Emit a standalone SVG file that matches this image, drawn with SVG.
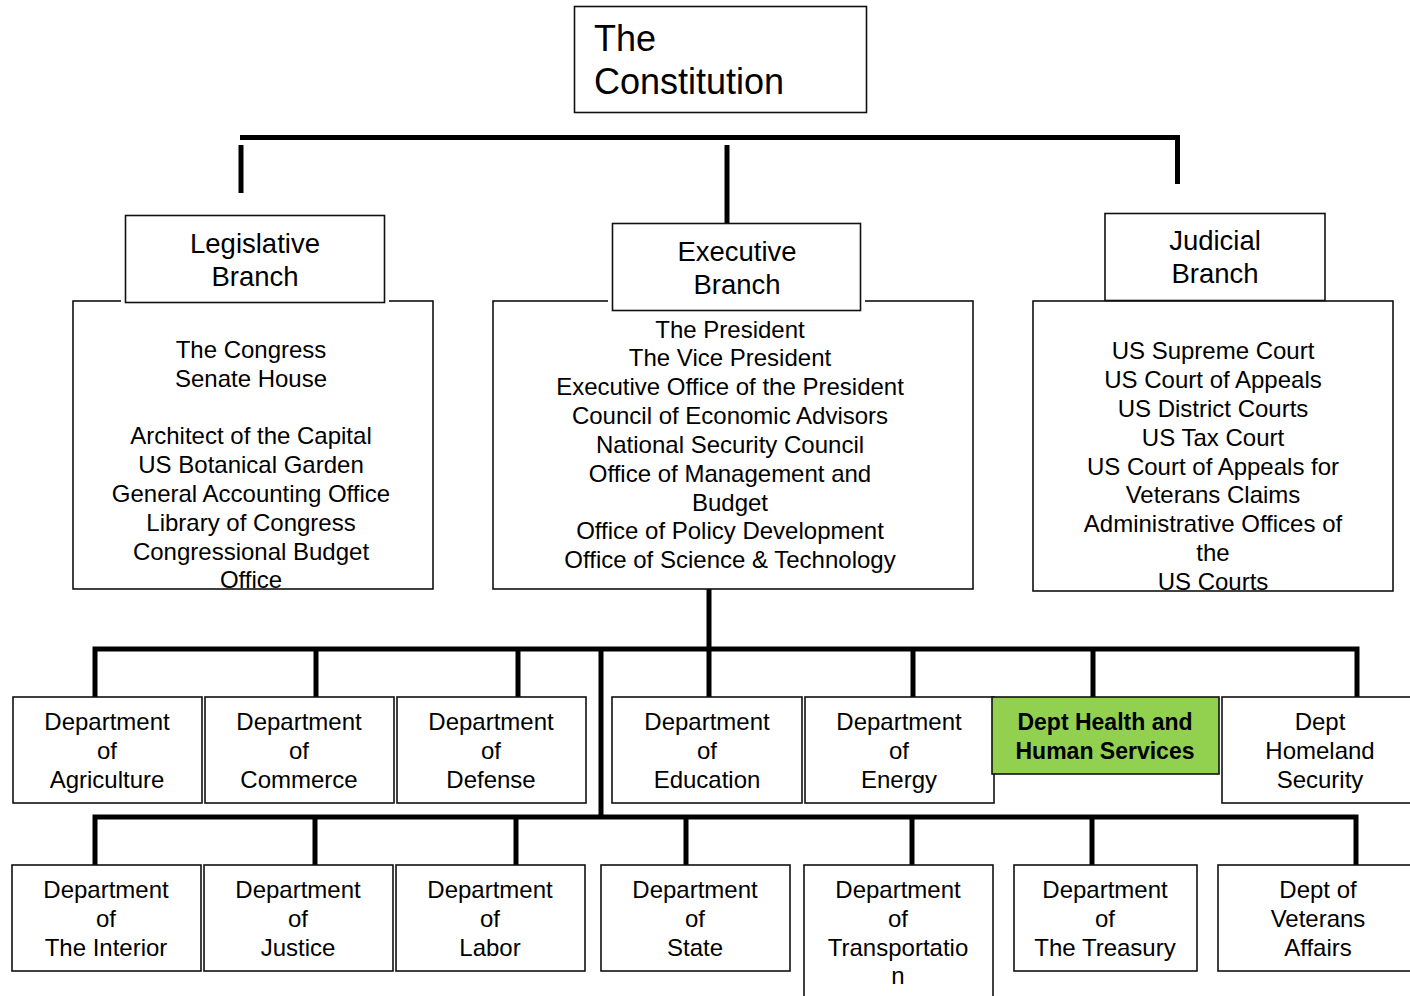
<svg xmlns="http://www.w3.org/2000/svg" width="1410" height="996" viewBox="0 0 1410 996">
<style>
.box{fill:#fff;stroke:#111;stroke-width:1.6}
.gap{fill:#fff;stroke:none}
.green{fill:#92D050;stroke:#111;stroke-width:1.6}
.conn{stroke:#000;stroke-width:5;fill:none}
text{font-family:"Liberation Sans",Arial,sans-serif;fill:#000;text-anchor:middle}
.t36{font-size:36px;text-anchor:start}
.t28{font-size:27.5px}
.t24{font-size:24px}
.b{font-size:23px;font-weight:bold}
</style>
<rect width="1410" height="996" fill="#fff"/>
<g id="connectors">
<path class="conn" d="M240 137.5H1177.5V184"/>
<path class="conn" d="M241 145V193"/>
<path class="conn" d="M727 145V228"/>
<path class="conn" d="M709 589V697"/>
<path class="conn" d="M95 697V649H1357V697"/>
<path class="conn" d="M316 649V697M518 649V697M913 649V697M1093 649V697"/>
<path class="conn" d="M601 649V817"/>
<path class="conn" d="M95 865V817H1356V865"/>
<path class="conn" d="M315 817V865M516 817V865M686 817V865M912 817V865M1092 817V865"/>
</g>
<g id="constitution">
<rect class="box" x="574.5" y="6.5" width="292" height="106"/>
<text class="t36" x="594" y="51">The</text>
<text class="t36" x="594" y="94">Constitution</text>
</g>
<g id="legislative">
<rect class="box" x="73" y="301" width="360" height="288"/>
<rect class="gap" x="121" y="296" width="268" height="10"/>
<rect class="box" x="125.5" y="215.5" width="259" height="87"/>
<text class="t28" x="255" y="253">Legislative</text>
<text class="t28" x="255" y="286">Branch</text>
<text class="t24" x="251" y="358">The Congress</text>
<text class="t24" x="251" y="387">Senate House</text>
<text class="t24" x="251" y="444">Architect of the Capital</text>
<text class="t24" x="251" y="473">US Botanical Garden</text>
<text class="t24" x="251" y="502">General Accounting Office</text>
<text class="t24" x="251" y="531">Library of Congress</text>
<text class="t24" x="251" y="560">Congressional Budget</text>
<text class="t24" x="251" y="588">Office</text>
</g>
<g id="executive">
<rect class="box" x="493" y="301" width="480" height="288"/>
<rect class="gap" x="608" y="296" width="257" height="10"/>
<rect class="box" x="612.5" y="223.5" width="248" height="87"/>
<text class="t28" x="737" y="261">Executive</text>
<text class="t28" x="737" y="294">Branch</text>
<text class="t24" x="730" y="338">The President</text>
<text class="t24" x="730" y="366">The Vice President</text>
<text class="t24" x="730" y="395">Executive Office of the President</text>
<text class="t24" x="730" y="424">Council of Economic Advisors</text>
<text class="t24" x="730" y="453">National Security Council</text>
<text class="t24" x="730" y="482">Office of Management and</text>
<text class="t24" x="730" y="511">Budget</text>
<text class="t24" x="730" y="539">Office of Policy Development</text>
<text class="t24" x="730" y="568">Office of Science &amp; Technology</text>
</g>
<g id="judicial">
<rect class="box" x="1033" y="301" width="360" height="290"/>
<rect class="box" x="1105" y="213.5" width="220" height="87"/>
<text class="t28" x="1215" y="250">Judicial</text>
<text class="t28" x="1215" y="283">Branch</text>
<text class="t24" x="1213" y="359">US Supreme Court</text>
<text class="t24" x="1213" y="388">US Court of Appeals</text>
<text class="t24" x="1213" y="417">US District Courts</text>
<text class="t24" x="1213" y="446">US Tax Court</text>
<text class="t24" x="1213" y="475">US Court of Appeals for</text>
<text class="t24" x="1213" y="503">Veterans Claims</text>
<text class="t24" x="1213" y="532">Administrative Offices of</text>
<text class="t24" x="1213" y="561">the</text>
<text class="t24" x="1213" y="590">US Courts</text>
</g>
<g id="agriculture">
<rect class="box" x="13" y="697" width="189" height="106"/>
<text class="t24" x="107" y="730">Department</text><text class="t24" x="107" y="759">of</text><text class="t24" x="107" y="788">Agriculture</text>
</g>
<g id="commerce">
<rect class="box" x="205" y="697" width="189" height="106"/>
<text class="t24" x="299" y="730">Department</text><text class="t24" x="299" y="759">of</text><text class="t24" x="299" y="788">Commerce</text>
</g>
<g id="defense">
<rect class="box" x="397" y="697" width="189" height="106"/>
<text class="t24" x="491" y="730">Department</text><text class="t24" x="491" y="759">of</text><text class="t24" x="491" y="788">Defense</text>
</g>
<g id="education">
<rect class="box" x="612" y="697" width="190" height="106"/>
<text class="t24" x="707" y="730">Department</text><text class="t24" x="707" y="759">of</text><text class="t24" x="707" y="788">Education</text>
</g>
<g id="energy">
<rect class="box" x="805" y="697" width="189" height="106"/>
<text class="t24" x="899" y="730">Department</text><text class="t24" x="899" y="759">of</text><text class="t24" x="899" y="788">Energy</text>
</g>
<g id="health">
<rect class="green" x="992" y="697" width="227" height="77"/>
<text class="b" x="1105" y="730">Dept Health and</text><text class="b" x="1105" y="759">Human Services</text>
</g>
<g id="homeland">
<rect class="box" x="1222" y="697" width="200" height="106"/>
<text class="t24" x="1320" y="730">Dept</text><text class="t24" x="1320" y="759">Homeland</text><text class="t24" x="1320" y="788">Security</text>
</g>
<g id="interior">
<rect class="box" x="12" y="865" width="189" height="106"/>
<text class="t24" x="106" y="898">Department</text><text class="t24" x="106" y="927">of</text><text class="t24" x="106" y="956">The Interior</text>
</g>
<g id="justice">
<rect class="box" x="204" y="865" width="189" height="106"/>
<text class="t24" x="298" y="898">Department</text><text class="t24" x="298" y="927">of</text><text class="t24" x="298" y="956">Justice</text>
</g>
<g id="labor">
<rect class="box" x="396" y="865" width="189" height="106"/>
<text class="t24" x="490" y="898">Department</text><text class="t24" x="490" y="927">of</text><text class="t24" x="490" y="956">Labor</text>
</g>
<g id="state">
<rect class="box" x="601" y="865" width="189" height="106"/>
<text class="t24" x="695" y="898">Department</text><text class="t24" x="695" y="927">of</text><text class="t24" x="695" y="956">State</text>
</g>
<g id="transportation">
<rect class="box" x="804" y="865" width="189" height="140"/>
<text class="t24" x="898" y="898">Department</text><text class="t24" x="898" y="927">of</text><text class="t24" x="898" y="956">Transportatio</text><text class="t24" x="898" y="984">n</text>
</g>
<g id="treasury">
<rect class="box" x="1014" y="865" width="183" height="106"/>
<text class="t24" x="1105" y="898">Department</text><text class="t24" x="1105" y="927">of</text><text class="t24" x="1105" y="956">The Treasury</text>
</g>
<g id="veterans">
<rect class="box" x="1218" y="865" width="200" height="106"/>
<text class="t24" x="1318" y="898">Dept of</text><text class="t24" x="1318" y="927">Veterans</text><text class="t24" x="1318" y="956">Affairs</text>
</g>
</svg>
